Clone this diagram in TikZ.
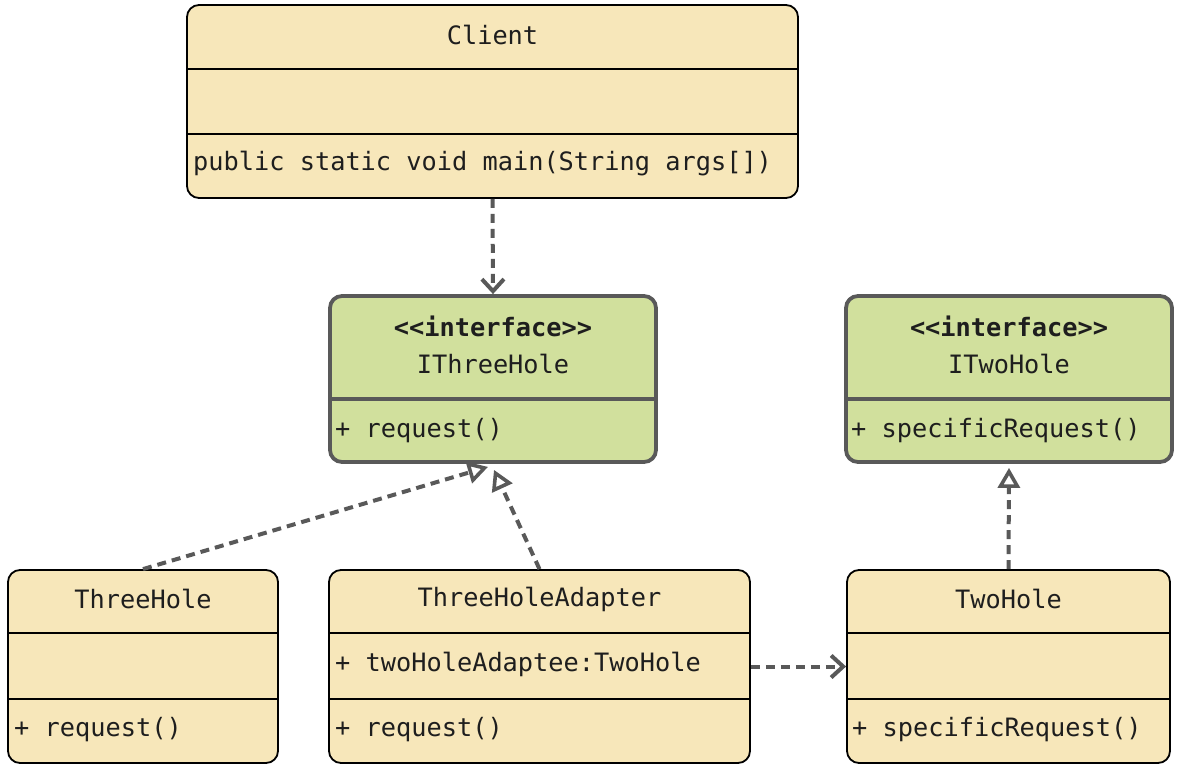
\documentclass[tikz,border=0pt]{standalone}
\usepackage{fontspec}
\newfontfamily\monofam{DejaVu Sans Mono}
\usetikzlibrary{arrows.meta,calc}
\definecolor{yfill}{HTML}{F7E7BA}
\definecolor{gfill}{HTML}{D1E09D}
\definecolor{edge}{HTML}{595959}
\definecolor{txt}{HTML}{1E1E1E}
\tikzset{
  ybox/.style={draw=black, line width=1.8pt, fill=yfill, rounded corners=12pt, inner sep=0pt},
  gbox/.style={draw=edge, line width=3.8pt, fill=gfill, rounded corners=12pt, inner sep=0pt},
  ydiv/.style={draw=black, line width=1.8pt},
  gdiv/.style={draw=edge, line width=3.8pt},
  lbl/.style={font=\monofam\fontsize{25.3}{28}\selectfont, text=txt, inner sep=0pt},
  blbl/.style={font=\monofam\bfseries\fontsize{25.3}{28}\selectfont, text=txt, inner sep=0pt},
  dep/.style={draw=edge, line width=4pt, dash pattern=on 9pt off 6pt, -{Straight Barb[length=12pt,width=22pt,line width=4pt]}},
  real/.style={draw=edge, line width=4pt, dash pattern=on 9pt off 6pt, -{Triangle[open,length=20pt,width=22pt,line width=3.6pt,fill=white]}},
}
\begin{document}
\begin{tikzpicture}[x=1pt,y=-1pt]
\useasboundingbox (0,0) rectangle (1180,768);
% Client
\node[ybox, minimum width=611pt, minimum height=193pt] (client) at (492.5,101.5) {};
\draw[ydiv] (client.west |- 0,69) -- (client.east |- 0,69);
\draw[ydiv] (client.west |- 0,134) -- (client.east |- 0,134);
\node[lbl] (clientT) at (492.5,35) {Client};
\node[lbl, anchor=west] (clientM) at (193,164) {public static void main(String args[])};
% IThreeHole
\node[gbox, minimum width=326pt, minimum height=166pt] (ithree) at (493,379) {};
\draw[gdiv] (ithree.west |- 0,399) -- (ithree.east |- 0,399);
\node[blbl] (ithreeS) at (493,326) {{<}{<}interface{>}{>}};
\node[lbl] (ithreeT) at (493,364) {IThreeHole};
\node[lbl, anchor=west] (ithreeM) at (335,431) {+ request()};
% ITwoHole
\node[gbox, minimum width=326pt, minimum height=166pt] (itwo) at (1009,379) {};
\draw[gdiv] (itwo.west |- 0,399) -- (itwo.east |- 0,399);
\node[blbl] (itwoS) at (1009,326) {{<}{<}interface{>}{>}};
\node[lbl] (itwoT) at (1009,364) {ITwoHole};
\node[lbl, anchor=west] (itwoM) at (851,431) {+ specificRequest()};
% ThreeHole
\node[ybox, minimum width=270pt, minimum height=193pt] (three) at (143,666.5) {};
\draw[ydiv] (three.west |- 0,633) -- (three.east |- 0,633);
\draw[ydiv] (three.west |- 0,699) -- (three.east |- 0,699);
\node[lbl] (threeT) at (143,599) {ThreeHole};
\node[lbl, anchor=west] (threeM) at (14,730) {+ request()};
% ThreeHoleAdapter
\node[ybox, minimum width=421pt, minimum height=193pt] (adapter) at (539.5,666.5) {};
\draw[ydiv] (adapter.west |- 0,633) -- (adapter.east |- 0,633);
\draw[ydiv] (adapter.west |- 0,699) -- (adapter.east |- 0,699);
\node[lbl] (adapterT) at (539.5,599) {ThreeHoleAdapter};
\node[lbl, anchor=west] (adapterA) at (335,664) {+ twoHoleAdaptee:TwoHole};
\node[lbl, anchor=west] (adapterM) at (335,730) {+ request()};
% TwoHole
\node[ybox, minimum width=323pt, minimum height=193pt] (two) at (1008.5,666.5) {};
\draw[ydiv] (two.west |- 0,633) -- (two.east |- 0,633);
\draw[ydiv] (two.west |- 0,699) -- (two.east |- 0,699);
\node[lbl] (twoT) at (1008.5,599) {TwoHole};
\node[lbl, anchor=west] (twoM) at (852,730) {+ specificRequest()};
% connectors
\coordinate (t1) at ($(ithree.south)+(-5,3)$);
\coordinate (t2) at ($(ithree.south)+(1,6)$);
\draw[dep] (client.south) -- (ithree.north);
\draw[real] (three.north) -- (t1);
\draw[real] (adapter.north) -- (t2);
\draw[real] (two.north) -- ($(itwo.south)+(0,4)$);
\draw[dep] (adapter.east) -- (two.west);
\end{tikzpicture}
\end{document}
